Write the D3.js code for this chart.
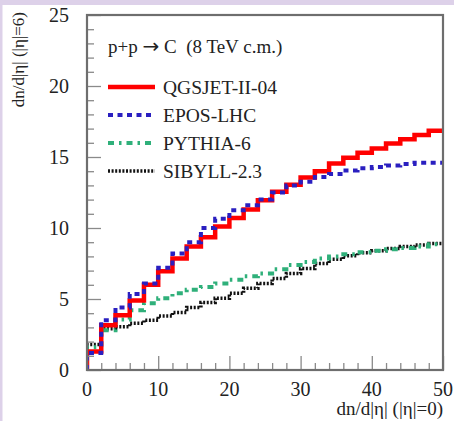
<!DOCTYPE html>
<html>
<head>
<meta charset="utf-8">
<script src="https://cdn.jsdelivr.net/npm/d3@7/dist/d3.min.js"></script>
<style>
  html, body { margin: 0; padding: 0; background: #ffffff; }
  svg { display: block; }
  text { font-family: "Liberation Serif", "DejaVu Serif", serif; }
</style>
</head>
<body>
<script>
// ---- data ----
const binEdges = d3.range(0, 52, 2); // 0..50 step 2
const qgsjet = [1.3, 3.15, 3.85, 4.9, 6.0, 6.95, 7.85, 8.7, 9.35, 10.1, 10.7, 11.3, 11.95, 12.55, 13.05, 13.55, 14.0, 14.55, 14.95, 15.3, 15.6, 15.95, 16.25, 16.55, 16.85];
const epos   = [1.2, 3.5, 4.4, 5.35, 6.1, 7.2, 8.2, 9.0, 10.0, 10.65, 11.25, 11.6, 12.0, 12.5, 13.0, 13.25, 13.6, 13.8, 14.05, 14.2, 14.3, 14.4, 14.5, 14.6, 14.6];
const pythia = [1.6, 2.8, 3.55, 4.2, 4.7, 5.05, 5.4, 5.65, 5.85, 6.1, 6.35, 6.6, 6.8, 7.1, 7.4, 7.6, 7.85, 8.0, 8.15, 8.3, 8.4, 8.5, 8.6, 8.7, 8.85];
const sibyll = [1.8, 2.9, 3.05, 3.3, 3.5, 3.8, 4.05, 4.4, 4.75, 5.05, 5.4, 5.75, 6.1, 6.45, 6.8, 7.15, 7.5, 7.8, 8.05, 8.25, 8.4, 8.55, 8.7, 8.8, 8.9];
const seriesNames = ["QGSJET-II-04", "EPOS-LHC", "PYTHIA-6", "SIBYLL-2.3"];
const xTicks = [0, 10, 20, 30, 40, 50];
const yTicks = [0, 5, 10, 15, 20, 25];
const titleParts = ["p+p ", "\u2192", " C  (8 TeV c.m.)"];
const xTitle = "dn/d|\u03b7| (|\u03b7|=0)";
const yTitle = "dn/d|\u03b7| (|\u03b7|=6)";

const W = 454, H = 421;
const L = 87, R = 443, T = 15, B = 370;

const svg = d3.select("body").append("svg").attr("width", W).attr("height", H);

// page background decoration
svg.append("rect").attr("x", 0).attr("y", 0).attr("width", W).attr("height", 5).attr("fill", "#ddd1e9");
svg.append("rect").attr("x", 0).attr("y", 0).attr("width", 2.5).attr("height", H).attr("fill", "#ddd1e9");

const x = d3.scaleLinear().domain([0, 50]).range([L, R]);
const y = d3.scaleLinear().domain([0, 25]).range([B, T]);

const clipId = "plotclip";
svg.append("clipPath").attr("id", clipId).append("rect")
  .attr("x", L).attr("y", T).attr("width", R - L).attr("height", B - T);

function stepPath(vals) {
  const pts = [[x(0), y(0)]];
  vals.forEach((v, i) => {
    pts.push([x(binEdges[i]), y(v)]);
    pts.push([x(binEdges[i + 1]), y(v)]);
  });
  return d3.line()(pts);
}

const styles = [
  { data: qgsjet, color: "#ff0000", width: 4.5, dash: null },
  { data: epos,   color: "#2a1fc0", width: 4, dash: "5,4.5" },
  { data: pythia, color: "#2fb07a", width: 4, dash: "6,5,2.5,5" },
  { data: sibyll, color: "#111111", width: 3.5, dash: "2,1.6" }
];

const g = svg.append("g").attr("clip-path", `url(#${clipId})`);
[3, 2, 0, 1].forEach(i => {
  const s = styles[i];
  g.append("path").attr("d", stepPath(s.data))
    .attr("fill", "none").attr("stroke", s.color).attr("stroke-width", s.width)
    .attr("stroke-dasharray", s.dash).attr("stroke-linejoin", "miter");
});

// axes (ticks inside)
const axisColor = "#8a8a8a";
const yAxis = d3.axisRight(y).tickValues(yTicks).tickSize(14).tickFormat("");
const yMinor = d3.axisRight(y).tickValues(d3.range(0, 26, 1).filter(v => v % 5 !== 0)).tickSize(7).tickFormat("");
const xAxis = d3.axisTop(x).tickValues(xTicks).tickSize(14).tickFormat("");
const xMinor = d3.axisTop(x).tickValues(d3.range(0, 51, 2).filter(v => v % 10 !== 0)).tickSize(7).tickFormat("");

[[yAxis, `translate(${L},0)`], [yMinor, `translate(${L},0)`], [xAxis, `translate(0,${B})`], [xMinor, `translate(0,${B})`]].forEach(([ax, tr]) => {
  const a = svg.append("g").attr("transform", tr).call(ax);
  a.select(".domain").remove();
  a.selectAll("line").attr("stroke", axisColor).attr("stroke-width", 1.3);
});

// frame
svg.append("rect").attr("x", L).attr("y", T).attr("width", R - L).attr("height", B - T)
  .attr("fill", "none").attr("stroke", "#6e6e6e").attr("stroke-width", 2.2);

// tick labels
const labColor = "#222";
svg.selectAll(".ylab").data(yTicks).enter().append("text")
  .attr("x", 69).attr("y", d => y(d) + 7)
  .attr("text-anchor", "end").attr("font-size", 20).attr("fill", labColor)
  .text(d => d);
svg.selectAll(".xlab").data(xTicks).enter().append("text")
  .attr("x", d => x(d)).attr("y", 396)
  .attr("text-anchor", "middle").attr("font-size", 20).attr("fill", labColor)
  .text(d => d);

// axis titles
svg.append("text").attr("x", R).attr("y", 415).attr("text-anchor", "end")
  .attr("font-size", 19).attr("fill", labColor).text(xTitle);
svg.append("text").attr("transform", `translate(24,12) rotate(-90)`).attr("text-anchor", "end")
  .attr("font-size", 17).attr("fill", labColor).text(yTitle);

// legend
const tt = svg.append("text").attr("x", 108).attr("y", 53).attr("font-size", 19)
  .attr("fill", labColor).style("white-space", "pre");
tt.append("tspan").text(titleParts[0]);
tt.append("tspan").attr("font-family", "DejaVu Sans").attr("font-size", 20).text(titleParts[1]);
tt.append("tspan").text(titleParts[2]);
const legY = [87, 115, 143, 171];
styles.forEach((s, i) => {
  svg.append("line").attr("x1", 108).attr("x2", 155).attr("y1", legY[i]).attr("y2", legY[i])
    .attr("stroke", s.color).attr("stroke-width", s.width).attr("stroke-dasharray", s.dash);
  svg.append("text").attr("x", 163).attr("y", legY[i] + 7).attr("font-size", 19.5).attr("fill", labColor).text(seriesNames[i]);
});
</script>
</body>
</html>
